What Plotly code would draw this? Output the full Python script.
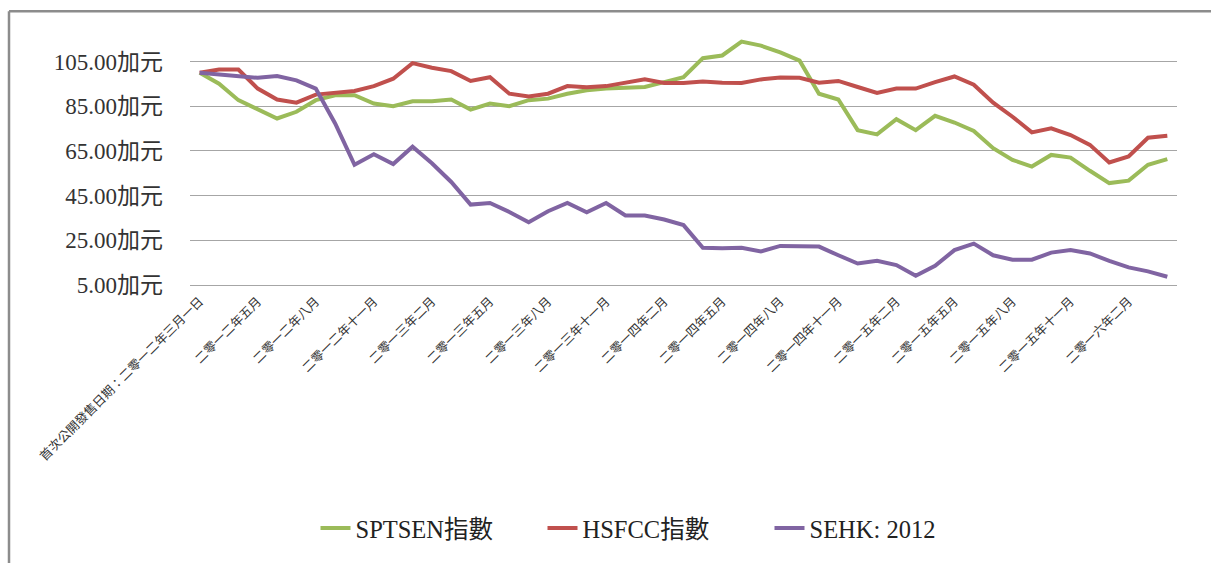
import plotly.graph_objects as go

categories = [
    "首次公開發售日期：二零一二年三月一日",
    "二零一二年三月", "二零一二年四月", "二零一二年五月", "二零一二年六月", "二零一二年七月",
    "二零一二年八月", "二零一二年九月", "二零一二年十月", "二零一二年十一月", "二零一二年十二月",
    "二零一三年一月", "二零一三年二月", "二零一三年三月", "二零一三年四月", "二零一三年五月",
    "二零一三年六月", "二零一三年七月", "二零一三年八月", "二零一三年九月", "二零一三年十月",
    "二零一三年十一月", "二零一三年十二月",
    "二零一四年一月", "二零一四年二月", "二零一四年三月", "二零一四年四月", "二零一四年五月",
    "二零一四年六月", "二零一四年七月", "二零一四年八月", "二零一四年九月", "二零一四年十月",
    "二零一四年十一月", "二零一四年十二月",
    "二零一五年一月", "二零一五年二月", "二零一五年三月", "二零一五年四月", "二零一五年五月",
    "二零一五年六月", "二零一五年七月", "二零一五年八月", "二零一五年九月", "二零一五年十月",
    "二零一五年十一月", "二零一五年十二月",
    "二零一六年一月", "二零一六年二月", "二零一六年三月", "二零一六年四月",
]

sptsen = [100, 95.1, 87.7, 83.5, 79.5, 82.5, 87.7, 89.9, 89.9, 86.2,
          85.0, 87.2, 87.2, 88.0, 83.5, 86.2, 85.0, 87.7, 88.4, 90.6,
          92.1, 92.9, 93.1, 93.6, 95.8, 98.0, 106.5, 107.7, 113.9, 112.1,
          109.1, 105.4, 90.6, 88.0, 74.3, 72.4, 79.2, 74.3, 80.7, 77.7,
          73.9, 66.2, 61.0, 58.0, 63.2, 62.0, 56.1, 50.6, 51.7, 58.8, 61.3]

hsfcc = [100, 101.4, 101.4, 92.9, 88.0, 86.6, 90.2, 91.1, 91.8, 94.0,
         97.3, 104.3, 102.2, 100.7, 96.3, 98.0, 90.6, 89.4, 90.6, 94.0,
         93.5, 94.0, 95.5, 97.0, 95.4, 95.4, 96.1, 95.5, 95.4, 97.0,
         97.9, 97.7, 95.5, 96.3, 93.6, 90.9, 92.9, 92.9, 95.8, 98.3,
         94.6, 86.6, 80.3, 73.3, 75.1, 72.1, 67.7, 59.8, 62.5, 70.9, 71.8]

sehk = [100, 99.2, 98.5, 97.7, 98.5, 96.6, 92.9, 77.3, 58.8, 63.5,
        59.1, 66.9, 59.5, 51.1, 41.0, 41.7, 37.7, 33.1, 38.0, 41.7,
        37.5, 41.7, 36.1, 36.1, 34.3, 31.8, 21.7, 21.4, 21.7, 20.0,
        22.5, 22.2, 22.2, 18.3, 14.6, 15.8, 13.9, 9.1, 13.6, 20.6,
        23.5, 18.3, 16.3, 16.3, 19.5, 20.7, 19.1, 15.8, 12.9, 11.1, 8.7]

series_names = ["SPTSEN指數", "HSFCC指數", "SEHK: 2012"]
series_colors = ["#9BBB59", "#C0504D", "#8064A2"]

y_tickvals = [5, 25, 45, 65, 85, 105]
y_ticktext = ["5.00加元", "25.00加元", "45.00加元", "65.00加元", "85.00加元", "105.00加元"]

x_tickvals = categories[::3]

# layout geometry (pixels)
W, H = 1211, 563
ML, MR, MT, MB = 190, 34, 28, 276
PW, PH = W - ML - MR, H - MT - MB


def px(x):
    return (x - ML) / PW


def py(y):
    return (H - MB - y) / PH


serif = "Liberation Serif, Noto Sans CJK TC, serif"
cjk = "Noto Sans CJK TC, sans-serif"

fig = go.Figure()
for name, vals, col in zip(series_names, [sptsen, hsfcc, sehk], series_colors):
    fig.add_trace(go.Scatter(x=categories, y=vals, mode="lines", name=name,
                             line=dict(color=col, width=4)))

grid = "#A6A6A6"
fig.update_layout(
    width=W, height=H,
    margin=dict(l=ML, r=MR, t=MT, b=MB),
    paper_bgcolor="white", plot_bgcolor="white",
    showlegend=True,
    legend=dict(orientation="h", x=px(656), y=py(532), xanchor="center", yanchor="middle",
                font=dict(family=serif, size=24.5, color="#222"),
                entrywidth=182, entrywidthmode="pixels", tracegroupgap=0),
    xaxis=dict(type="category", categoryorder="array", categoryarray=categories,
               range=[-0.5, len(categories) - 0.5],
               tickmode="array", tickvals=x_tickvals, ticktext=x_tickvals,
               tickangle=-45, tickfont=dict(family=cjk, size=12.5, color="#333"),
               showgrid=False, zeroline=False, showline=True, linecolor=grid, linewidth=1.3,
               ticks="outside", ticklen=3, tickcolor="rgba(0,0,0,0)"),
    yaxis=dict(range=[5, 120], tickmode="array", tickvals=y_tickvals, ticktext=y_ticktext,
               tickfont=dict(family=serif, size=23, color="#333"),
               showgrid=True, gridcolor=grid, gridwidth=1.3, zeroline=False, showline=False,
               ticks="", ticklabelstandoff=26),
    shapes=[
        dict(type="line", xref="paper", yref="paper", x0=px(9), x1=px(9), y0=py(11), y1=py(H + 5),
             line=dict(color="#8C8C8C", width=2.5)),
        dict(type="line", xref="paper", yref="paper", x0=px(9), x1=px(W + 5), y0=py(11), y1=py(11),
             line=dict(color="#8C8C8C", width=2.5)),
    ],
)

fig.write_html("out.html", config={"displayModeBar": False},
               post_script="document.body.style.margin='0';document.body.style.overflow='hidden';")
